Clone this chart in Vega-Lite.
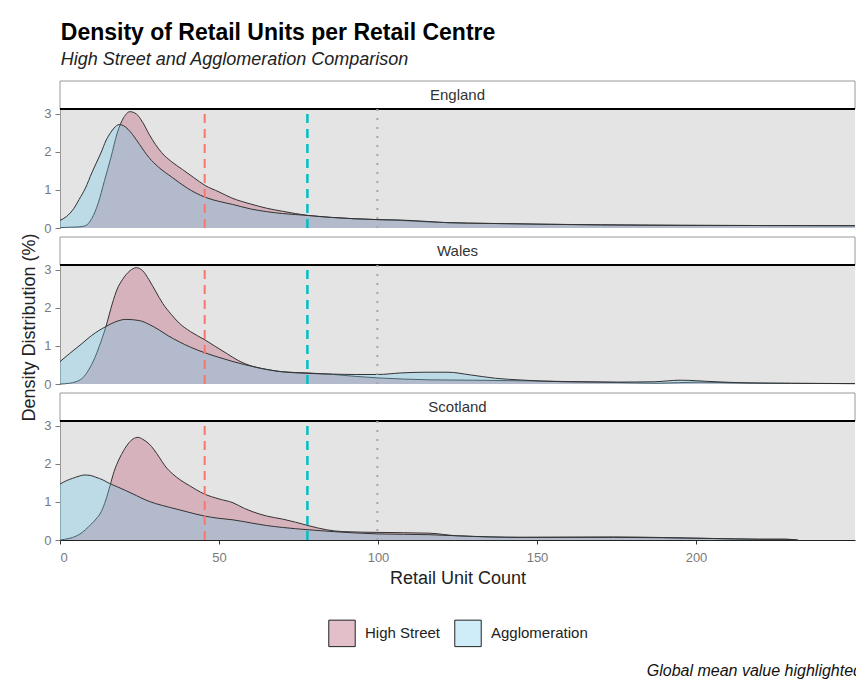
{
"$schema": "https://vega.github.io/schema/vega-lite/v6.json",
"background": "white",
"padding": {"left": 20, "top": 21, "right": 0, "bottom": 0},
"config": {"font": "Liberation Sans", "view": {"stroke": null}, "legend": {"layout": {"bottom": {"anchor": "middle"}}}},
"title": {"text": "Density of Retail Units per Retail Centre", "subtitle": "High Street and Agglomeration Comparison", "anchor": "start", "fontSize": 23, "fontWeight": "bold", "color": "#000", "subtitleFontSize": 18, "subtitleFontStyle": "italic", "subtitleColor": "#222", "subtitlePadding": 6, "offset": 12, "dx": 40},
"datasets": {
"dens": [
{"country":"England","type":"High Street","x":0,"density":0.01},{"country":"England","type":"High Street","x":3,"density":0.02},{"country":"England","type":"High Street","x":6,"density":0.03},{"country":"England","type":"High Street","x":8,"density":0.06},{"country":"England","type":"High Street","x":10,"density":0.25},{"country":"England","type":"High Street","x":12,"density":0.65},{"country":"England","type":"High Street","x":14,"density":1.25},{"country":"England","type":"High Street","x":16,"density":1.85},{"country":"England","type":"High Street","x":18,"density":2.5},{"country":"England","type":"High Street","x":20,"density":2.9},{"country":"England","type":"High Street","x":22,"density":3.06},{"country":"England","type":"High Street","x":24,"density":3.0},{"country":"England","type":"High Street","x":26,"density":2.78},{"country":"England","type":"High Street","x":28,"density":2.47},{"country":"England","type":"High Street","x":30,"density":2.2},{"country":"England","type":"High Street","x":32,"density":1.98},{"country":"England","type":"High Street","x":35,"density":1.75},{"country":"England","type":"High Street","x":38.5,"density":1.54},{"country":"England","type":"High Street","x":42,"density":1.33},{"country":"England","type":"High Street","x":45.6,"density":1.12},{"country":"England","type":"High Street","x":50,"density":0.95},{"country":"England","type":"High Street","x":54,"density":0.79},{"country":"England","type":"High Street","x":60,"density":0.63},{"country":"England","type":"High Street","x":65,"density":0.52},{"country":"England","type":"High Street","x":70,"density":0.44},{"country":"England","type":"High Street","x":78,"density":0.33},{"country":"England","type":"High Street","x":85,"density":0.28},{"country":"England","type":"High Street","x":100,"density":0.22},{"country":"England","type":"High Street","x":107,"density":0.2},{"country":"England","type":"High Street","x":116,"density":0.16},{"country":"England","type":"High Street","x":122,"density":0.14},{"country":"England","type":"High Street","x":135,"density":0.12},{"country":"England","type":"High Street","x":151,"density":0.1},{"country":"England","type":"High Street","x":170,"density":0.085},{"country":"England","type":"High Street","x":196,"density":0.07},{"country":"England","type":"High Street","x":220,"density":0.065},{"country":"England","type":"High Street","x":250,"density":0.06},
{"country":"England","type":"Agglomeration","x":0,"density":0.2},{"country":"England","type":"Agglomeration","x":2,"density":0.3},{"country":"England","type":"Agglomeration","x":4.4,"density":0.52},{"country":"England","type":"Agglomeration","x":6,"density":0.75},{"country":"England","type":"Agglomeration","x":8,"density":1.05},{"country":"England","type":"Agglomeration","x":10,"density":1.45},{"country":"England","type":"Agglomeration","x":11.3,"density":1.69},{"country":"England","type":"Agglomeration","x":13,"density":2.0},{"country":"England","type":"Agglomeration","x":14.4,"density":2.29},{"country":"England","type":"Agglomeration","x":16,"density":2.52},{"country":"England","type":"Agglomeration","x":17,"density":2.63},{"country":"England","type":"Agglomeration","x":18.6,"density":2.72},{"country":"England","type":"Agglomeration","x":20,"density":2.69},{"country":"England","type":"Agglomeration","x":22.8,"density":2.46},{"country":"England","type":"Agglomeration","x":25,"density":2.2},{"country":"England","type":"Agglomeration","x":28,"density":1.85},{"country":"England","type":"Agglomeration","x":31,"density":1.6},{"country":"England","type":"Agglomeration","x":35.3,"density":1.33},{"country":"England","type":"Agglomeration","x":40,"density":1.05},{"country":"England","type":"Agglomeration","x":45.6,"density":0.81},{"country":"England","type":"Agglomeration","x":50,"density":0.7},{"country":"England","type":"Agglomeration","x":54.3,"density":0.62},{"country":"England","type":"Agglomeration","x":60,"density":0.5},{"country":"England","type":"Agglomeration","x":65,"density":0.43},{"country":"England","type":"Agglomeration","x":70,"density":0.38},{"country":"England","type":"Agglomeration","x":78,"density":0.33},{"country":"England","type":"Agglomeration","x":85,"density":0.28},{"country":"England","type":"Agglomeration","x":100,"density":0.22},{"country":"England","type":"Agglomeration","x":107,"density":0.21},{"country":"England","type":"Agglomeration","x":116,"density":0.17},{"country":"England","type":"Agglomeration","x":122,"density":0.14},{"country":"England","type":"Agglomeration","x":135,"density":0.12},{"country":"England","type":"Agglomeration","x":151,"density":0.1},{"country":"England","type":"Agglomeration","x":170,"density":0.08},{"country":"England","type":"Agglomeration","x":196,"density":0.07},{"country":"England","type":"Agglomeration","x":220,"density":0.065},{"country":"England","type":"Agglomeration","x":250,"density":0.06},
{"country":"Wales","type":"High Street","x":0,"density":0},{"country":"Wales","type":"High Street","x":3,"density":0.02},{"country":"Wales","type":"High Street","x":5,"density":0.06},{"country":"Wales","type":"High Street","x":7,"density":0.15},{"country":"Wales","type":"High Street","x":9,"density":0.37},{"country":"Wales","type":"High Street","x":11,"density":0.7},{"country":"Wales","type":"High Street","x":12.3,"density":0.98},{"country":"Wales","type":"High Street","x":14.4,"density":1.5},{"country":"Wales","type":"High Street","x":16.5,"density":2.13},{"country":"Wales","type":"High Street","x":18,"density":2.5},{"country":"Wales","type":"High Street","x":19.6,"density":2.74},{"country":"Wales","type":"High Street","x":22,"density":2.98},{"country":"Wales","type":"High Street","x":24,"density":3.06},{"country":"Wales","type":"High Street","x":26,"density":2.98},{"country":"Wales","type":"High Street","x":28,"density":2.74},{"country":"Wales","type":"High Street","x":30,"density":2.45},{"country":"Wales","type":"High Street","x":32.3,"density":2.12},{"country":"Wales","type":"High Street","x":35,"density":1.83},{"country":"Wales","type":"High Street","x":37.5,"density":1.6},{"country":"Wales","type":"High Street","x":41,"density":1.38},{"country":"Wales","type":"High Street","x":45.6,"density":1.16},{"country":"Wales","type":"High Street","x":49,"density":0.98},{"country":"Wales","type":"High Street","x":52.3,"density":0.81},{"country":"Wales","type":"High Street","x":56,"density":0.62},{"country":"Wales","type":"High Street","x":60.7,"density":0.46},{"country":"Wales","type":"High Street","x":65,"density":0.38},{"country":"Wales","type":"High Street","x":70,"density":0.32},{"country":"Wales","type":"High Street","x":78,"density":0.29},{"country":"Wales","type":"High Street","x":86,"density":0.25},{"country":"Wales","type":"High Street","x":93,"density":0.2},{"country":"Wales","type":"High Street","x":100,"density":0.16},{"country":"Wales","type":"High Street","x":108,"density":0.13},{"country":"Wales","type":"High Street","x":116,"density":0.11},{"country":"Wales","type":"High Street","x":130,"density":0.1},{"country":"Wales","type":"High Street","x":149,"density":0.08},{"country":"Wales","type":"High Street","x":170,"density":0.05},{"country":"Wales","type":"High Street","x":188,"density":0.02},{"country":"Wales","type":"High Street","x":201,"density":0.05},{"country":"Wales","type":"High Street","x":211,"density":0.03},{"country":"Wales","type":"High Street","x":230,"density":0.015},{"country":"Wales","type":"High Street","x":250,"density":0.01},
{"country":"Wales","type":"Agglomeration","x":0,"density":0.59},{"country":"Wales","type":"Agglomeration","x":3,"density":0.8},{"country":"Wales","type":"Agglomeration","x":7,"density":1.07},{"country":"Wales","type":"Agglomeration","x":10,"density":1.28},{"country":"Wales","type":"Agglomeration","x":14.4,"density":1.51},{"country":"Wales","type":"Agglomeration","x":17,"density":1.62},{"country":"Wales","type":"Agglomeration","x":20.7,"density":1.7},{"country":"Wales","type":"Agglomeration","x":24.9,"density":1.67},{"country":"Wales","type":"Agglomeration","x":28,"density":1.57},{"country":"Wales","type":"Agglomeration","x":31.2,"density":1.42},{"country":"Wales","type":"Agglomeration","x":34,"density":1.27},{"country":"Wales","type":"Agglomeration","x":37.5,"density":1.11},{"country":"Wales","type":"Agglomeration","x":41,"density":0.97},{"country":"Wales","type":"Agglomeration","x":45.6,"density":0.82},{"country":"Wales","type":"Agglomeration","x":50,"density":0.7},{"country":"Wales","type":"Agglomeration","x":54.4,"density":0.59},{"country":"Wales","type":"Agglomeration","x":61.7,"density":0.44},{"country":"Wales","type":"Agglomeration","x":70,"density":0.32},{"country":"Wales","type":"Agglomeration","x":78,"density":0.28},{"country":"Wales","type":"Agglomeration","x":86,"density":0.26},{"country":"Wales","type":"Agglomeration","x":93,"density":0.25},{"country":"Wales","type":"Agglomeration","x":100,"density":0.25},{"country":"Wales","type":"Agglomeration","x":107,"density":0.29},{"country":"Wales","type":"Agglomeration","x":115,"density":0.31},{"country":"Wales","type":"Agglomeration","x":122,"density":0.31},{"country":"Wales","type":"Agglomeration","x":129,"density":0.24},{"country":"Wales","type":"Agglomeration","x":137,"density":0.15},{"country":"Wales","type":"Agglomeration","x":145,"density":0.105},{"country":"Wales","type":"Agglomeration","x":158,"density":0.06},{"country":"Wales","type":"Agglomeration","x":175,"density":0.05},{"country":"Wales","type":"Agglomeration","x":187,"density":0.06},{"country":"Wales","type":"Agglomeration","x":195,"density":0.1},{"country":"Wales","type":"Agglomeration","x":206,"density":0.06},{"country":"Wales","type":"Agglomeration","x":216,"density":0.03},{"country":"Wales","type":"Agglomeration","x":230,"density":0.02},{"country":"Wales","type":"Agglomeration","x":250,"density":0.01},
{"country":"Scotland","type":"High Street","x":0,"density":0},{"country":"Scotland","type":"High Street","x":2.8,"density":0.04},{"country":"Scotland","type":"High Street","x":5,"density":0.1},{"country":"Scotland","type":"High Street","x":7,"density":0.2},{"country":"Scotland","type":"High Street","x":9,"density":0.35},{"country":"Scotland","type":"High Street","x":11.3,"density":0.55},{"country":"Scotland","type":"High Street","x":13,"density":0.75},{"country":"Scotland","type":"High Street","x":14.4,"density":1.05},{"country":"Scotland","type":"High Street","x":15.8,"density":1.45},{"country":"Scotland","type":"High Street","x":17,"density":1.8},{"country":"Scotland","type":"High Street","x":18.6,"density":2.13},{"country":"Scotland","type":"High Street","x":20,"density":2.35},{"country":"Scotland","type":"High Street","x":21.8,"density":2.57},{"country":"Scotland","type":"High Street","x":23,"density":2.66},{"country":"Scotland","type":"High Street","x":24.6,"density":2.7},{"country":"Scotland","type":"High Street","x":26,"density":2.65},{"country":"Scotland","type":"High Street","x":28,"density":2.53},{"country":"Scotland","type":"High Street","x":31.2,"density":2.18},{"country":"Scotland","type":"High Street","x":33,"density":1.95},{"country":"Scotland","type":"High Street","x":35.4,"density":1.74},{"country":"Scotland","type":"High Street","x":38,"density":1.57},{"country":"Scotland","type":"High Street","x":40.7,"density":1.43},{"country":"Scotland","type":"High Street","x":45.4,"density":1.21},{"country":"Scotland","type":"High Street","x":50,"density":1.08},{"country":"Scotland","type":"High Street","x":54.4,"density":0.98},{"country":"Scotland","type":"High Street","x":58,"density":0.83},{"country":"Scotland","type":"High Street","x":60.7,"density":0.74},{"country":"Scotland","type":"High Street","x":65,"density":0.63},{"country":"Scotland","type":"High Street","x":70,"density":0.55},{"country":"Scotland","type":"High Street","x":74,"density":0.47},{"country":"Scotland","type":"High Street","x":78,"density":0.38},{"country":"Scotland","type":"High Street","x":83.8,"density":0.27},{"country":"Scotland","type":"High Street","x":89,"density":0.22},{"country":"Scotland","type":"High Street","x":100,"density":0.2},{"country":"Scotland","type":"High Street","x":116,"density":0.18},{"country":"Scotland","type":"High Street","x":125,"density":0.11},{"country":"Scotland","type":"High Street","x":145,"density":0.07},{"country":"Scotland","type":"High Street","x":174,"density":0.08},{"country":"Scotland","type":"High Street","x":205,"density":0.04},{"country":"Scotland","type":"High Street","x":220,"density":0.02},{"country":"Scotland","type":"High Street","x":228,"density":0.02},{"country":"Scotland","type":"High Street","x":232,"density":0},
{"country":"Scotland","type":"Agglomeration","x":0,"density":1.47},{"country":"Scotland","type":"Agglomeration","x":2,"density":1.56},{"country":"Scotland","type":"Agglomeration","x":3.9,"density":1.62},{"country":"Scotland","type":"Agglomeration","x":6,"density":1.68},{"country":"Scotland","type":"Agglomeration","x":7.6,"density":1.71},{"country":"Scotland","type":"Agglomeration","x":9.5,"density":1.7},{"country":"Scotland","type":"Agglomeration","x":11.3,"density":1.65},{"country":"Scotland","type":"Agglomeration","x":13.5,"density":1.58},{"country":"Scotland","type":"Agglomeration","x":15.5,"density":1.49},{"country":"Scotland","type":"Agglomeration","x":18,"density":1.4},{"country":"Scotland","type":"Agglomeration","x":20.7,"density":1.3},{"country":"Scotland","type":"Agglomeration","x":24,"density":1.17},{"country":"Scotland","type":"Agglomeration","x":27,"density":1.05},{"country":"Scotland","type":"Agglomeration","x":30,"density":0.96},{"country":"Scotland","type":"Agglomeration","x":34.4,"density":0.86},{"country":"Scotland","type":"Agglomeration","x":40,"density":0.74},{"country":"Scotland","type":"Agglomeration","x":45.4,"density":0.63},{"country":"Scotland","type":"Agglomeration","x":50,"density":0.57},{"country":"Scotland","type":"Agglomeration","x":54.4,"density":0.53},{"country":"Scotland","type":"Agglomeration","x":60,"density":0.45},{"country":"Scotland","type":"Agglomeration","x":65,"density":0.38},{"country":"Scotland","type":"Agglomeration","x":70,"density":0.33},{"country":"Scotland","type":"Agglomeration","x":78,"density":0.27},{"country":"Scotland","type":"Agglomeration","x":86,"density":0.22},{"country":"Scotland","type":"Agglomeration","x":100,"density":0.16},{"country":"Scotland","type":"Agglomeration","x":116,"density":0.14},{"country":"Scotland","type":"Agglomeration","x":125,"density":0.11},{"country":"Scotland","type":"Agglomeration","x":145,"density":0.07},{"country":"Scotland","type":"Agglomeration","x":174,"density":0.07},{"country":"Scotland","type":"Agglomeration","x":205,"density":0.04},{"country":"Scotland","type":"Agglomeration","x":220,"density":0.02},{"country":"Scotland","type":"Agglomeration","x":228,"density":0.02},{"country":"Scotland","type":"Agglomeration","x":232,"density":0}
],
"means": [{"type":"High Street","mean":45.5},{"type":"Agglomeration","mean":77.8},{"type":"Global","mean":99.8}]
},
"spacing": 9,
"bounds": "flush",
"resolve": {"scale": {"color": "independent"}, "legend": {"color": "independent"}},
"vconcat": [
{
"width": 795, "height": 147,
"view": {"fill": "#e4e4e4", "stroke": null},
"layer": [
{"data": {"values": [{"label": "England"}]}, "mark": {"type": "rect", "fill": "white", "stroke": "#9a9a9a", "strokeWidth": 1}, "encoding": {"x": {"datum": 0, "type": "quantitative", "axis": null}, "x2": {"datum": 250}, "y": {"datum": 3.13, "type": "quantitative", "axis": {"values": [0, 1, 2, 3], "grid": false, "domainColor": "#9a9a9a", "tickColor": "#7a7a7a", "tickSize": 5, "labelColor": "#7a7a7a", "labelFontSize": 13, "labelPadding": 4, "title": null}}, "y2": {"datum": 3.867}}},
{"data": {"values": [{"label": "England"}]}, "mark": {"type": "text", "fontSize": 15, "color": "#333", "align": "center", "baseline": "middle"}, "encoding": {"x": {"datum": 125, "type": "quantitative", "axis": null}, "y": {"datum": 3.5, "type": "quantitative", "axis": {"values": [0, 1, 2, 3], "grid": false, "domainColor": "#9a9a9a", "tickColor": "#7a7a7a", "tickSize": 5, "labelColor": "#7a7a7a", "labelFontSize": 13, "labelPadding": 4, "title": null}}, "text": {"field": "label"}}},
{"data": {"values": [{"label": "England"}]}, "mark": {"type": "rule", "color": "#000", "strokeWidth": 2}, "encoding": {"x": {"datum": 0, "type": "quantitative", "axis": null}, "x2": {"datum": 250}, "y": {"datum": 3.13, "type": "quantitative", "axis": {"values": [0, 1, 2, 3], "grid": false, "domainColor": "#9a9a9a", "tickColor": "#7a7a7a", "tickSize": 5, "labelColor": "#7a7a7a", "labelFontSize": 13, "labelPadding": 4, "title": null}}}},
{"data": {"name": "dens"}, "transform": [{"filter": "datum.country === 'England' && datum.type === 'High Street'"}], "mark": {"type": "area", "interpolate": "monotone"}, "encoding": {"x": {"field": "x", "type": "quantitative", "scale": {"domain": [0, 250], "nice": false, "zero": false}, "axis": null}, "y": {"field": "density", "type": "quantitative", "scale": {"domain": [0, 3.867], "nice": false}, "axis": {"values": [0, 1, 2, 3], "grid": false, "domainColor": "#9a9a9a", "tickColor": "#7a7a7a", "tickSize": 5, "labelColor": "#7a7a7a", "labelFontSize": 13, "labelPadding": 4, "title": null}}, "color": {"field": "type", "type": "nominal", "scale": {"domain": ["High Street", "Agglomeration"], "range": ["rgba(200,130,148,0.5)", "rgba(107,200,235,0.33)"]}, "legend": null}}},
{"data": {"name": "dens"}, "transform": [{"filter": "datum.country === 'England' && datum.type === 'High Street'"}], "mark": {"type": "line", "interpolate": "monotone", "color": "#333", "strokeWidth": 1}, "encoding": {"x": {"field": "x", "type": "quantitative", "axis": null}, "y": {"field": "density", "type": "quantitative", "axis": {"values": [0, 1, 2, 3], "grid": false, "domainColor": "#9a9a9a", "tickColor": "#7a7a7a", "tickSize": 5, "labelColor": "#7a7a7a", "labelFontSize": 13, "labelPadding": 4, "title": null}}}},
{"data": {"name": "dens"}, "transform": [{"filter": "datum.country === 'England' && datum.type === 'Agglomeration'"}], "mark": {"type": "area", "interpolate": "monotone"}, "encoding": {"x": {"field": "x", "type": "quantitative", "axis": null}, "y": {"field": "density", "type": "quantitative", "axis": {"values": [0, 1, 2, 3], "grid": false, "domainColor": "#9a9a9a", "tickColor": "#7a7a7a", "tickSize": 5, "labelColor": "#7a7a7a", "labelFontSize": 13, "labelPadding": 4, "title": null}}, "color": {"field": "type", "type": "nominal", "legend": null}}},
{"data": {"name": "dens"}, "transform": [{"filter": "datum.country === 'England' && datum.type === 'Agglomeration'"}], "mark": {"type": "line", "interpolate": "monotone", "color": "#333", "strokeWidth": 1}, "encoding": {"x": {"field": "x", "type": "quantitative", "axis": null}, "y": {"field": "density", "type": "quantitative", "axis": {"values": [0, 1, 2, 3], "grid": false, "domainColor": "#9a9a9a", "tickColor": "#7a7a7a", "tickSize": 5, "labelColor": "#7a7a7a", "labelFontSize": 13, "labelPadding": 4, "title": null}}}},
{"data": {"name": "means"}, "transform": [{"filter": "datum.type === 'High Street'"}], "mark": {"type": "rule", "color": "#F8766D", "strokeWidth": 2, "strokeDash": [9, 6]}, "encoding": {"x": {"field": "mean", "type": "quantitative", "axis": null}, "y": {"datum": 0, "type": "quantitative", "axis": {"values": [0, 1, 2, 3], "grid": false, "domainColor": "#9a9a9a", "tickColor": "#7a7a7a", "tickSize": 5, "labelColor": "#7a7a7a", "labelFontSize": 13, "labelPadding": 4, "title": null}}, "y2": {"datum": 3.13}}},
{"data": {"name": "means"}, "transform": [{"filter": "datum.type === 'Agglomeration'"}], "mark": {"type": "rule", "color": "#00BFC4", "strokeWidth": 2.5, "strokeDash": [9, 6]}, "encoding": {"x": {"field": "mean", "type": "quantitative", "axis": null}, "y": {"datum": 0, "type": "quantitative", "axis": {"values": [0, 1, 2, 3], "grid": false, "domainColor": "#9a9a9a", "tickColor": "#7a7a7a", "tickSize": 5, "labelColor": "#7a7a7a", "labelFontSize": 13, "labelPadding": 4, "title": null}}, "y2": {"datum": 3.13}}},
{"data": {"name": "means"}, "transform": [{"filter": "datum.type === 'Global'"}], "mark": {"type": "rule", "color": "#a6a6a6", "strokeWidth": 2, "strokeDash": [2, 7]}, "encoding": {"x": {"field": "mean", "type": "quantitative", "axis": null}, "y": {"datum": 0, "type": "quantitative", "axis": {"values": [0, 1, 2, 3], "grid": false, "domainColor": "#9a9a9a", "tickColor": "#7a7a7a", "tickSize": 5, "labelColor": "#7a7a7a", "labelFontSize": 13, "labelPadding": 4, "title": null}}, "y2": {"datum": 3.13}}}
]
},
{
"width": 795, "height": 147,
"view": {"fill": "#e4e4e4", "stroke": null},
"layer": [
{"data": {"values": [{"label": "Wales"}]}, "mark": {"type": "rect", "fill": "white", "stroke": "#9a9a9a", "strokeWidth": 1}, "encoding": {"x": {"datum": 0, "type": "quantitative", "axis": null}, "x2": {"datum": 250}, "y": {"datum": 3.13, "type": "quantitative", "axis": {"values": [0, 1, 2, 3], "grid": false, "domainColor": "#9a9a9a", "tickColor": "#7a7a7a", "tickSize": 5, "labelColor": "#7a7a7a", "labelFontSize": 13, "labelPadding": 4, "title": "Density Distribution (%)", "titleFontSize": 18, "titleFontWeight": "normal", "titleColor": "#222", "titlePadding": 5, "titleY": 90}}, "y2": {"datum": 3.867}}},
{"data": {"values": [{"label": "Wales"}]}, "mark": {"type": "text", "fontSize": 15, "color": "#333", "align": "center", "baseline": "middle"}, "encoding": {"x": {"datum": 125, "type": "quantitative", "axis": null}, "y": {"datum": 3.5, "type": "quantitative", "axis": {"values": [0, 1, 2, 3], "grid": false, "domainColor": "#9a9a9a", "tickColor": "#7a7a7a", "tickSize": 5, "labelColor": "#7a7a7a", "labelFontSize": 13, "labelPadding": 4, "title": "Density Distribution (%)", "titleFontSize": 18, "titleFontWeight": "normal", "titleColor": "#222", "titlePadding": 5, "titleY": 90}}, "text": {"field": "label"}}},
{"data": {"values": [{"label": "Wales"}]}, "mark": {"type": "rule", "color": "#000", "strokeWidth": 2}, "encoding": {"x": {"datum": 0, "type": "quantitative", "axis": null}, "x2": {"datum": 250}, "y": {"datum": 3.13, "type": "quantitative", "axis": {"values": [0, 1, 2, 3], "grid": false, "domainColor": "#9a9a9a", "tickColor": "#7a7a7a", "tickSize": 5, "labelColor": "#7a7a7a", "labelFontSize": 13, "labelPadding": 4, "title": "Density Distribution (%)", "titleFontSize": 18, "titleFontWeight": "normal", "titleColor": "#222", "titlePadding": 5, "titleY": 90}}}},
{"data": {"name": "dens"}, "transform": [{"filter": "datum.country === 'Wales' && datum.type === 'High Street'"}], "mark": {"type": "area", "interpolate": "monotone"}, "encoding": {"x": {"field": "x", "type": "quantitative", "scale": {"domain": [0, 250], "nice": false, "zero": false}, "axis": null}, "y": {"field": "density", "type": "quantitative", "scale": {"domain": [0, 3.867], "nice": false}, "axis": {"values": [0, 1, 2, 3], "grid": false, "domainColor": "#9a9a9a", "tickColor": "#7a7a7a", "tickSize": 5, "labelColor": "#7a7a7a", "labelFontSize": 13, "labelPadding": 4, "title": "Density Distribution (%)", "titleFontSize": 18, "titleFontWeight": "normal", "titleColor": "#222", "titlePadding": 5, "titleY": 90}}, "color": {"field": "type", "type": "nominal", "scale": {"domain": ["High Street", "Agglomeration"], "range": ["rgba(200,130,148,0.5)", "rgba(107,200,235,0.33)"]}, "legend": null}}},
{"data": {"name": "dens"}, "transform": [{"filter": "datum.country === 'Wales' && datum.type === 'High Street'"}], "mark": {"type": "line", "interpolate": "monotone", "color": "#333", "strokeWidth": 1}, "encoding": {"x": {"field": "x", "type": "quantitative", "axis": null}, "y": {"field": "density", "type": "quantitative", "axis": {"values": [0, 1, 2, 3], "grid": false, "domainColor": "#9a9a9a", "tickColor": "#7a7a7a", "tickSize": 5, "labelColor": "#7a7a7a", "labelFontSize": 13, "labelPadding": 4, "title": "Density Distribution (%)", "titleFontSize": 18, "titleFontWeight": "normal", "titleColor": "#222", "titlePadding": 5, "titleY": 90}}}},
{"data": {"name": "dens"}, "transform": [{"filter": "datum.country === 'Wales' && datum.type === 'Agglomeration'"}], "mark": {"type": "area", "interpolate": "monotone"}, "encoding": {"x": {"field": "x", "type": "quantitative", "axis": null}, "y": {"field": "density", "type": "quantitative", "axis": {"values": [0, 1, 2, 3], "grid": false, "domainColor": "#9a9a9a", "tickColor": "#7a7a7a", "tickSize": 5, "labelColor": "#7a7a7a", "labelFontSize": 13, "labelPadding": 4, "title": "Density Distribution (%)", "titleFontSize": 18, "titleFontWeight": "normal", "titleColor": "#222", "titlePadding": 5, "titleY": 90}}, "color": {"field": "type", "type": "nominal", "legend": null}}},
{"data": {"name": "dens"}, "transform": [{"filter": "datum.country === 'Wales' && datum.type === 'Agglomeration'"}], "mark": {"type": "line", "interpolate": "monotone", "color": "#333", "strokeWidth": 1}, "encoding": {"x": {"field": "x", "type": "quantitative", "axis": null}, "y": {"field": "density", "type": "quantitative", "axis": {"values": [0, 1, 2, 3], "grid": false, "domainColor": "#9a9a9a", "tickColor": "#7a7a7a", "tickSize": 5, "labelColor": "#7a7a7a", "labelFontSize": 13, "labelPadding": 4, "title": "Density Distribution (%)", "titleFontSize": 18, "titleFontWeight": "normal", "titleColor": "#222", "titlePadding": 5, "titleY": 90}}}},
{"data": {"name": "means"}, "transform": [{"filter": "datum.type === 'High Street'"}], "mark": {"type": "rule", "color": "#F8766D", "strokeWidth": 2, "strokeDash": [9, 6]}, "encoding": {"x": {"field": "mean", "type": "quantitative", "axis": null}, "y": {"datum": 0, "type": "quantitative", "axis": {"values": [0, 1, 2, 3], "grid": false, "domainColor": "#9a9a9a", "tickColor": "#7a7a7a", "tickSize": 5, "labelColor": "#7a7a7a", "labelFontSize": 13, "labelPadding": 4, "title": "Density Distribution (%)", "titleFontSize": 18, "titleFontWeight": "normal", "titleColor": "#222", "titlePadding": 5, "titleY": 90}}, "y2": {"datum": 3.13}}},
{"data": {"name": "means"}, "transform": [{"filter": "datum.type === 'Agglomeration'"}], "mark": {"type": "rule", "color": "#00BFC4", "strokeWidth": 2.5, "strokeDash": [9, 6]}, "encoding": {"x": {"field": "mean", "type": "quantitative", "axis": null}, "y": {"datum": 0, "type": "quantitative", "axis": {"values": [0, 1, 2, 3], "grid": false, "domainColor": "#9a9a9a", "tickColor": "#7a7a7a", "tickSize": 5, "labelColor": "#7a7a7a", "labelFontSize": 13, "labelPadding": 4, "title": "Density Distribution (%)", "titleFontSize": 18, "titleFontWeight": "normal", "titleColor": "#222", "titlePadding": 5, "titleY": 90}}, "y2": {"datum": 3.13}}},
{"data": {"name": "means"}, "transform": [{"filter": "datum.type === 'Global'"}], "mark": {"type": "rule", "color": "#a6a6a6", "strokeWidth": 2, "strokeDash": [2, 7]}, "encoding": {"x": {"field": "mean", "type": "quantitative", "axis": null}, "y": {"datum": 0, "type": "quantitative", "axis": {"values": [0, 1, 2, 3], "grid": false, "domainColor": "#9a9a9a", "tickColor": "#7a7a7a", "tickSize": 5, "labelColor": "#7a7a7a", "labelFontSize": 13, "labelPadding": 4, "title": "Density Distribution (%)", "titleFontSize": 18, "titleFontWeight": "normal", "titleColor": "#222", "titlePadding": 5, "titleY": 90}}, "y2": {"datum": 3.13}}}
]
},
{
"width": 795, "height": 147,
"view": {"fill": "#e4e4e4", "stroke": null},
"title": {"text": "Global mean value highlighted", "orient": "bottom", "anchor": "end", "fontSize": 16, "fontStyle": "italic", "fontWeight": "normal", "color": "#111", "offset": 14, "dx": 6},
"layer": [
{"data": {"values": [{"label": "Scotland"}]}, "mark": {"type": "rect", "fill": "white", "stroke": "#9a9a9a", "strokeWidth": 1}, "encoding": {"x": {"datum": 0, "type": "quantitative", "axis": {"values": [0, 50, 100, 150, 200], "grid": false, "domainColor": "#222", "tickColor": "#333", "tickSize": 4, "labelColor": "#7a7a7a", "labelFontSize": 13, "labelPadding": 7, "title": "Retail Unit Count", "titleFontSize": 18, "titleFontWeight": "normal", "titleColor": "#222", "titlePadding": 5}}, "x2": {"datum": 250}, "y": {"datum": 3.13, "type": "quantitative", "axis": {"values": [0, 1, 2, 3], "grid": false, "domainColor": "#9a9a9a", "tickColor": "#7a7a7a", "tickSize": 5, "labelColor": "#7a7a7a", "labelFontSize": 13, "labelPadding": 4, "title": null}}, "y2": {"datum": 3.867}}},
{"data": {"values": [{"label": "Scotland"}]}, "mark": {"type": "text", "fontSize": 15, "color": "#333", "align": "center", "baseline": "middle"}, "encoding": {"x": {"datum": 125, "type": "quantitative", "axis": {"values": [0, 50, 100, 150, 200], "grid": false, "domainColor": "#222", "tickColor": "#333", "tickSize": 4, "labelColor": "#7a7a7a", "labelFontSize": 13, "labelPadding": 7, "title": "Retail Unit Count", "titleFontSize": 18, "titleFontWeight": "normal", "titleColor": "#222", "titlePadding": 5}}, "y": {"datum": 3.5, "type": "quantitative", "axis": {"values": [0, 1, 2, 3], "grid": false, "domainColor": "#9a9a9a", "tickColor": "#7a7a7a", "tickSize": 5, "labelColor": "#7a7a7a", "labelFontSize": 13, "labelPadding": 4, "title": null}}, "text": {"field": "label"}}},
{"data": {"values": [{"label": "Scotland"}]}, "mark": {"type": "rule", "color": "#000", "strokeWidth": 2}, "encoding": {"x": {"datum": 0, "type": "quantitative", "axis": {"values": [0, 50, 100, 150, 200], "grid": false, "domainColor": "#222", "tickColor": "#333", "tickSize": 4, "labelColor": "#7a7a7a", "labelFontSize": 13, "labelPadding": 7, "title": "Retail Unit Count", "titleFontSize": 18, "titleFontWeight": "normal", "titleColor": "#222", "titlePadding": 5}}, "x2": {"datum": 250}, "y": {"datum": 3.13, "type": "quantitative", "axis": {"values": [0, 1, 2, 3], "grid": false, "domainColor": "#9a9a9a", "tickColor": "#7a7a7a", "tickSize": 5, "labelColor": "#7a7a7a", "labelFontSize": 13, "labelPadding": 4, "title": null}}}},
{"data": {"name": "dens"}, "transform": [{"filter": "datum.country === 'Scotland' && datum.type === 'High Street'"}], "mark": {"type": "area", "interpolate": "monotone"}, "encoding": {"x": {"field": "x", "type": "quantitative", "scale": {"domain": [0, 250], "nice": false, "zero": false}, "axis": {"values": [0, 50, 100, 150, 200], "grid": false, "domainColor": "#222", "tickColor": "#333", "tickSize": 4, "labelColor": "#7a7a7a", "labelFontSize": 13, "labelPadding": 7, "title": "Retail Unit Count", "titleFontSize": 18, "titleFontWeight": "normal", "titleColor": "#222", "titlePadding": 5}}, "y": {"field": "density", "type": "quantitative", "scale": {"domain": [0, 3.867], "nice": false}, "axis": {"values": [0, 1, 2, 3], "grid": false, "domainColor": "#9a9a9a", "tickColor": "#7a7a7a", "tickSize": 5, "labelColor": "#7a7a7a", "labelFontSize": 13, "labelPadding": 4, "title": null}}, "color": {"field": "type", "type": "nominal", "scale": {"domain": ["High Street", "Agglomeration"], "range": ["rgba(200,130,148,0.5)", "rgba(107,200,235,0.33)"]}, "legend": {"title": null, "orient": "bottom", "direction": "horizontal", "symbolType": "square", "symbolSize": 700, "symbolStrokeColor": "#222", "symbolStrokeWidth": 1, "labelFontSize": 15, "labelColor": "#222", "labelOffset": 9, "columnPadding": 11, "offset": 32}}}},
{"data": {"name": "dens"}, "transform": [{"filter": "datum.country === 'Scotland' && datum.type === 'High Street'"}], "mark": {"type": "line", "interpolate": "monotone", "color": "#333", "strokeWidth": 1}, "encoding": {"x": {"field": "x", "type": "quantitative", "axis": {"values": [0, 50, 100, 150, 200], "grid": false, "domainColor": "#222", "tickColor": "#333", "tickSize": 4, "labelColor": "#7a7a7a", "labelFontSize": 13, "labelPadding": 7, "title": "Retail Unit Count", "titleFontSize": 18, "titleFontWeight": "normal", "titleColor": "#222", "titlePadding": 5}}, "y": {"field": "density", "type": "quantitative", "axis": {"values": [0, 1, 2, 3], "grid": false, "domainColor": "#9a9a9a", "tickColor": "#7a7a7a", "tickSize": 5, "labelColor": "#7a7a7a", "labelFontSize": 13, "labelPadding": 4, "title": null}}}},
{"data": {"name": "dens"}, "transform": [{"filter": "datum.country === 'Scotland' && datum.type === 'Agglomeration'"}], "mark": {"type": "area", "interpolate": "monotone"}, "encoding": {"x": {"field": "x", "type": "quantitative", "axis": {"values": [0, 50, 100, 150, 200], "grid": false, "domainColor": "#222", "tickColor": "#333", "tickSize": 4, "labelColor": "#7a7a7a", "labelFontSize": 13, "labelPadding": 7, "title": "Retail Unit Count", "titleFontSize": 18, "titleFontWeight": "normal", "titleColor": "#222", "titlePadding": 5}}, "y": {"field": "density", "type": "quantitative", "axis": {"values": [0, 1, 2, 3], "grid": false, "domainColor": "#9a9a9a", "tickColor": "#7a7a7a", "tickSize": 5, "labelColor": "#7a7a7a", "labelFontSize": 13, "labelPadding": 4, "title": null}}, "color": {"field": "type", "type": "nominal", "legend": {"title": null, "orient": "bottom", "direction": "horizontal", "symbolType": "square", "symbolSize": 700, "symbolStrokeColor": "#222", "symbolStrokeWidth": 1, "labelFontSize": 15, "labelColor": "#222", "labelOffset": 9, "columnPadding": 11, "offset": 32}}}},
{"data": {"name": "dens"}, "transform": [{"filter": "datum.country === 'Scotland' && datum.type === 'Agglomeration'"}], "mark": {"type": "line", "interpolate": "monotone", "color": "#333", "strokeWidth": 1}, "encoding": {"x": {"field": "x", "type": "quantitative", "axis": {"values": [0, 50, 100, 150, 200], "grid": false, "domainColor": "#222", "tickColor": "#333", "tickSize": 4, "labelColor": "#7a7a7a", "labelFontSize": 13, "labelPadding": 7, "title": "Retail Unit Count", "titleFontSize": 18, "titleFontWeight": "normal", "titleColor": "#222", "titlePadding": 5}}, "y": {"field": "density", "type": "quantitative", "axis": {"values": [0, 1, 2, 3], "grid": false, "domainColor": "#9a9a9a", "tickColor": "#7a7a7a", "tickSize": 5, "labelColor": "#7a7a7a", "labelFontSize": 13, "labelPadding": 4, "title": null}}}},
{"data": {"name": "means"}, "transform": [{"filter": "datum.type === 'High Street'"}], "mark": {"type": "rule", "color": "#F8766D", "strokeWidth": 2, "strokeDash": [9, 6]}, "encoding": {"x": {"field": "mean", "type": "quantitative", "axis": {"values": [0, 50, 100, 150, 200], "grid": false, "domainColor": "#222", "tickColor": "#333", "tickSize": 4, "labelColor": "#7a7a7a", "labelFontSize": 13, "labelPadding": 7, "title": "Retail Unit Count", "titleFontSize": 18, "titleFontWeight": "normal", "titleColor": "#222", "titlePadding": 5}}, "y": {"datum": 0, "type": "quantitative", "axis": {"values": [0, 1, 2, 3], "grid": false, "domainColor": "#9a9a9a", "tickColor": "#7a7a7a", "tickSize": 5, "labelColor": "#7a7a7a", "labelFontSize": 13, "labelPadding": 4, "title": null}}, "y2": {"datum": 3.13}}},
{"data": {"name": "means"}, "transform": [{"filter": "datum.type === 'Agglomeration'"}], "mark": {"type": "rule", "color": "#00BFC4", "strokeWidth": 2.5, "strokeDash": [9, 6]}, "encoding": {"x": {"field": "mean", "type": "quantitative", "axis": {"values": [0, 50, 100, 150, 200], "grid": false, "domainColor": "#222", "tickColor": "#333", "tickSize": 4, "labelColor": "#7a7a7a", "labelFontSize": 13, "labelPadding": 7, "title": "Retail Unit Count", "titleFontSize": 18, "titleFontWeight": "normal", "titleColor": "#222", "titlePadding": 5}}, "y": {"datum": 0, "type": "quantitative", "axis": {"values": [0, 1, 2, 3], "grid": false, "domainColor": "#9a9a9a", "tickColor": "#7a7a7a", "tickSize": 5, "labelColor": "#7a7a7a", "labelFontSize": 13, "labelPadding": 4, "title": null}}, "y2": {"datum": 3.13}}},
{"data": {"name": "means"}, "transform": [{"filter": "datum.type === 'Global'"}], "mark": {"type": "rule", "color": "#a6a6a6", "strokeWidth": 2, "strokeDash": [2, 7]}, "encoding": {"x": {"field": "mean", "type": "quantitative", "axis": {"values": [0, 50, 100, 150, 200], "grid": false, "domainColor": "#222", "tickColor": "#333", "tickSize": 4, "labelColor": "#7a7a7a", "labelFontSize": 13, "labelPadding": 7, "title": "Retail Unit Count", "titleFontSize": 18, "titleFontWeight": "normal", "titleColor": "#222", "titlePadding": 5}}, "y": {"datum": 0, "type": "quantitative", "axis": {"values": [0, 1, 2, 3], "grid": false, "domainColor": "#9a9a9a", "tickColor": "#7a7a7a", "tickSize": 5, "labelColor": "#7a7a7a", "labelFontSize": 13, "labelPadding": 4, "title": null}}, "y2": {"datum": 3.13}}}
]
}
]
}
